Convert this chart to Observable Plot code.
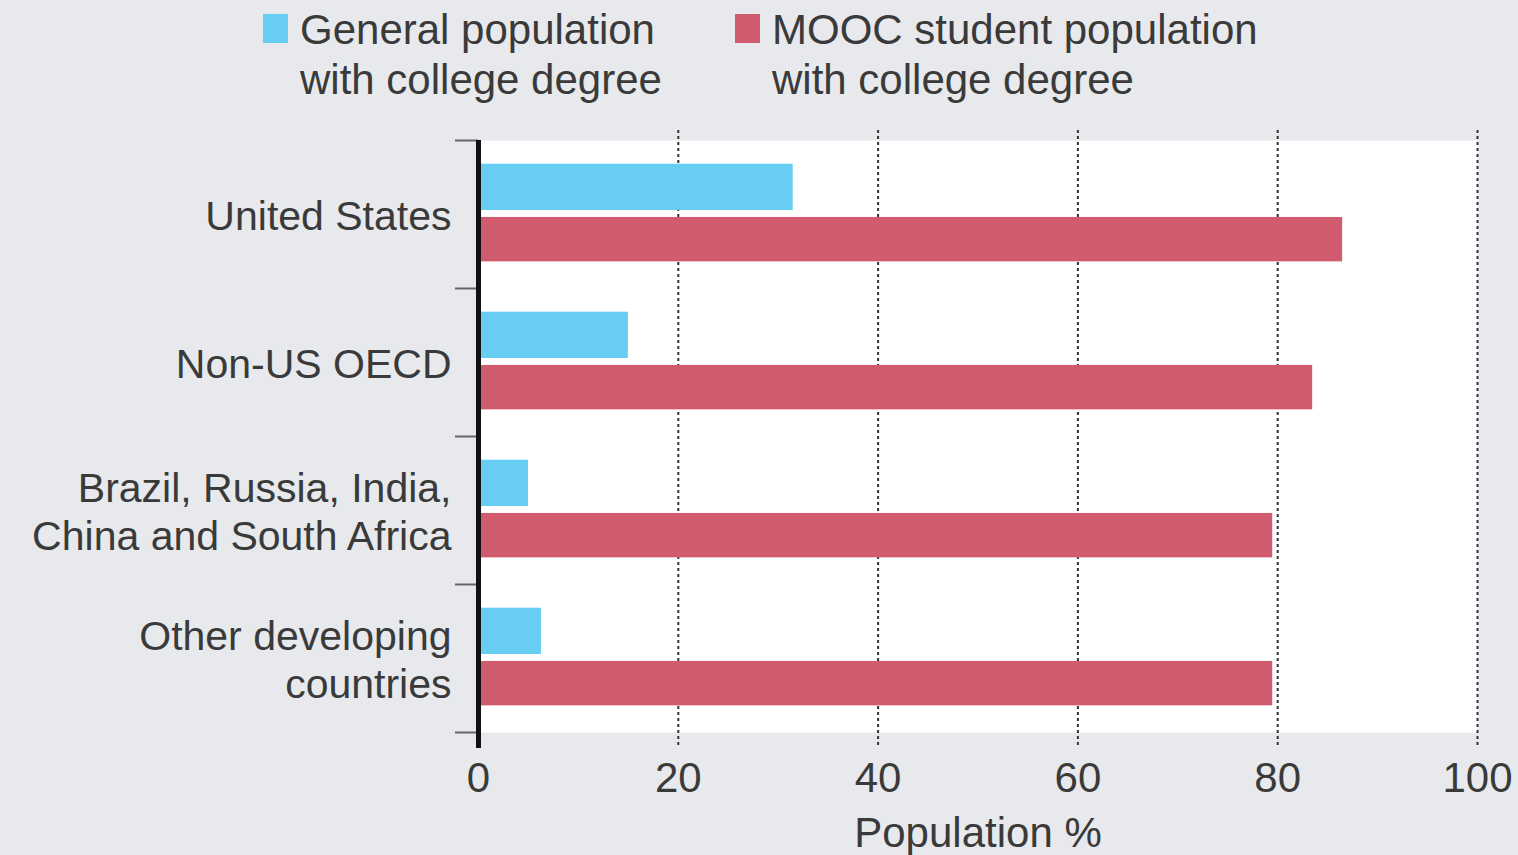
<!DOCTYPE html>
<html>
<head>
<meta charset="utf-8">
<script src="https://cdn.jsdelivr.net/npm/d3@7"></script>
<script src="https://cdn.jsdelivr.net/npm/@observablehq/plot@0.6"></script>
<style>
  html, body { margin: 0; padding: 0; background: #e7e9ec; overflow: hidden; }
  body { width: 1518px; height: 855px; font-family: "Liberation Sans", Arial, sans-serif; color: #3a3a3a; }
  #legend { position: relative; height: 120px; }
  .item { position: absolute; top: 5px; font-size: 42px; line-height: 50px; }
  .sw { position: absolute; left: -37px; top: 9px; width: 25px; height: 29px; }
  #chart svg { display: block; }
</style>
</head>
<body>
<div id="legend"></div>
<div id="chart"></div>
<script>
const regions = [
  "United States",
  "Non-US OECD",
  "Brazil, Russia, India,\nChina and South Africa",
  "Other developing\ncountries"
];
const seriesNames = ["General population\nwith college degree", "MOOC student population\nwith college degree"];
const seriesColors = ["#68cdf3", "#d05a6e"];
const generalPct = [31.5, 15.0, 5.0, 6.3];
const moocPct = [86.5, 83.5, 79.5, 79.5];
const xTicks = [0, 20, 40, 60, 80, 100];

// legend
const legend = document.getElementById("legend");
const legendLeft = [300, 772];
seriesNames.forEach((name, i) => {
  const div = document.createElement("div");
  div.className = "item";
  div.style.left = legendLeft[i] + "px";
  div.innerHTML = `<span class="sw" style="background:${seriesColors[i]}"></span>` +
    name.split("\n").map(s => `<div>${s}</div>`).join("");
  legend.appendChild(div);
});

const generalRows = regions.map((r, i) => ({region: r, idx: i, value: generalPct[i]}));
const moocRows = regions.map((r, i) => ({region: r, idx: i, value: moocPct[i]}));

const chart = Plot.plot({
  width: 1518,
  height: 735,
  marginLeft: 478,
  marginRight: 41,
  marginTop: 20,
  marginBottom: 123,
  style: {background: "transparent", fontFamily: "'Liberation Sans', Arial, sans-serif", color: "#3a3a3a"},
  x: {domain: [0, 100]},
  y: {type: "linear", domain: [0, regions.length], reverse: true},
  marks: [
    Plot.frame({fill: "white", stroke: null}),
    Plot.ruleX(xTicks.slice(1), {stroke: "#333", strokeWidth: 2, strokeDasharray: "3,3", insetTop: -10, insetBottom: -16}),
    Plot.rect(generalRows, {x1: 0, x2: "value", y1: d => d.idx + 0.16, y2: d => d.idx + 0.473, fill: seriesColors[0]}),
    Plot.rect(moocRows, {x1: 0, x2: "value", y1: d => d.idx + 0.52, y2: d => d.idx + 0.82, fill: seriesColors[1]}),
    Plot.axisY({ticks: d3.range(regions.length + 1), tickFormat: () => "", tickSize: 23, stroke: "#666", strokeWidth: 2, label: null}),
    Plot.ruleX([0], {stroke: "#111", strokeWidth: 5, insetBottom: -16}),
    Plot.text(regions, {x: () => 0, y: (d, i) => i + 0.5, text: d => d, dx: -27, textAnchor: "end", fontSize: 41, lineHeight: 1.17, fill: "#3a3a3a"}),
    Plot.axisX({ticks: xTicks, tickSize: 0, tickPadding: 30, fontSize: 42, label: null, fill: "#3a3a3a"}),
    Plot.text(["Population %"], {frameAnchor: "bottom", dy: 114, fontSize: 42, fill: "#3a3a3a"})
  ]
});
document.getElementById("chart").appendChild(chart);
</script>
</body>
</html>
